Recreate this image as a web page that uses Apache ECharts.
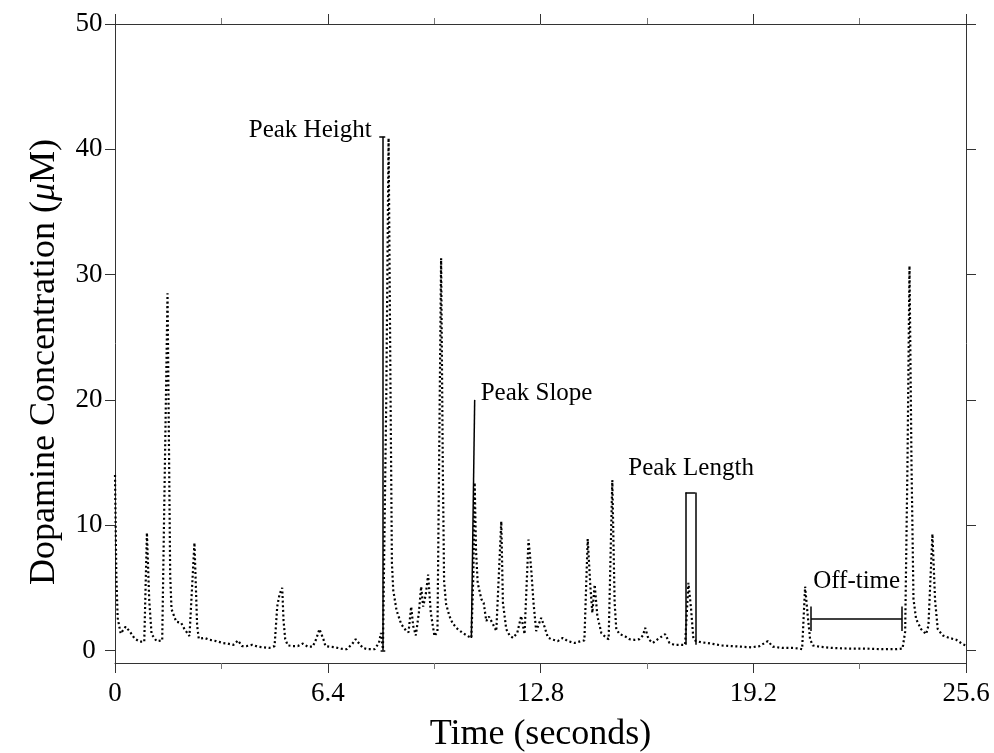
<!DOCTYPE html>
<html>
<head>
<meta charset="utf-8">
<script src="https://cdn.jsdelivr.net/npm/echarts@6/dist/echarts.min.js"></script>
<style>
  html, body { margin: 0; padding: 0; background: #fff; }
  #chart { width: 994px; height: 753px; }
</style>
</head>
<body>
<div id="chart"></div>
<script>
// Recorded dopamine trace: time (s) and concentration (µM)
const time = [
  0.00, 0.04, 0.08, 0.17, 0.32, 0.45, 0.59, 0.75, 0.88, 0.96, 1.03, 1.10, 1.25, 1.42, 1.58, 1.66, 1.70, 1.84, 1.99, 2.09,
  2.24, 2.30, 2.39, 2.47, 2.52, 2.69, 2.84, 3.04, 3.24, 3.39, 3.56, 3.70, 3.82, 3.95, 4.13, 4.30, 4.47, 4.63, 4.80, 4.88,
  4.95, 5.03, 5.07, 5.12, 5.20, 5.35, 5.50, 5.65, 5.80, 5.95, 6.05, 6.15, 6.20, 6.27, 6.33, 6.47, 6.62, 6.80, 6.97, 7.13,
  7.24, 7.36, 7.46, 7.60, 7.81, 7.94, 8.00, 8.06, 8.10, 8.16, 8.23, 8.29, 8.33, 8.37, 8.47, 8.61, 8.75, 8.83, 8.91, 8.97,
  9.05, 9.14, 9.21, 9.27, 9.35, 9.42, 9.50, 9.61, 9.66, 9.70, 9.75, 9.81, 9.86, 9.90, 9.96, 10.06, 10.16, 10.31, 10.46, 10.61,
  10.72, 10.78, 10.82, 10.86, 10.91, 11.02, 11.09, 11.17, 11.25, 11.37, 11.47, 11.52, 11.62, 11.67, 11.77, 11.87, 11.97, 12.10, 12.22, 12.32,
  12.44, 12.52, 12.59, 12.67, 12.82, 12.92, 13.02, 13.12, 13.32, 13.47, 13.62, 13.82, 14.03, 14.12, 14.22, 14.30, 14.36, 14.43, 14.51, 14.63,
  14.78, 14.85, 14.96, 15.03, 15.08, 15.18, 15.33, 15.48, 15.63, 15.78, 15.88, 15.95, 16.05, 16.18, 16.33, 16.55, 16.68, 16.83, 17.03, 17.15,
  17.25, 17.33, 17.40, 17.48, 17.64, 17.82, 18.03, 18.24, 18.54, 18.84, 19.14, 19.39, 19.64, 19.79, 20.08, 20.38, 20.60, 20.67, 20.76, 20.84,
  20.91, 20.99, 21.19, 21.59, 22.10, 22.58, 23.09, 23.48, 23.69, 23.77, 23.84, 23.90, 23.96, 24.02, 24.10, 24.25, 24.40, 24.47, 24.59, 24.67,
  24.75, 24.90, 25.10, 25.31, 25.50, 25.60
];
const dopamine = [
  14.0, 6.0, 2.6, 1.35, 1.9, 1.5, 0.95, 0.7, 0.7, 9.4, 4.0, 1.3, 0.75, 0.8, 28.5, 6.0, 3.3, 2.3, 2.2, 1.7,
  1.15, 1.1, 8.6, 2.0, 0.95, 1.0, 0.85, 0.75, 0.6, 0.55, 0.45, 0.8, 0.35, 0.35, 0.45, 0.3, 0.25, 0.2, 0.35, 3.5,
  4.5, 5.0, 2.4, 0.9, 0.4, 0.35, 0.35, 0.55, 0.3, 0.3, 0.9, 1.7, 1.85, 0.9, 0.35, 0.3, 0.25, 0.15, 0.1, 0.5,
  0.9, 0.5, 0.2, 0.1, 0.1, 0.6, 1.4, 0.1, 0.2, 20.0, 40.9, 20.0, 7.0, 4.8, 3.2, 2.1, 1.6, 1.45, 3.5, 1.95,
  1.2, 3.0, 5.1, 3.5, 4.5, 6.05, 3.0, 1.15, 1.0, 1.5, 15.0, 31.3, 15.0, 5.5, 3.7, 2.75, 2.15, 1.7, 1.4, 1.15,
  1.0, 6.0, 13.4, 8.0, 5.4, 4.1, 3.8, 2.35, 2.7, 2.1, 1.55, 1.4, 10.3, 3.8, 1.7, 1.2, 1.0, 1.4, 2.75, 1.3,
  8.85, 6.5, 3.8, 1.55, 2.6, 1.9, 1.05, 0.9, 0.75, 1.0, 0.75, 0.6, 0.75, 0.8, 8.9, 5.1, 3.0, 5.25, 2.75, 1.4,
  1.0, 0.9, 13.6, 3.8, 1.7, 1.3, 1.15, 0.9, 0.85, 0.9, 1.2, 1.8, 0.9, 0.6, 0.9, 1.3, 0.6, 0.45, 0.45, 0.45,
  5.4, 3.3, 0.9, 0.75, 0.65, 0.6, 0.5, 0.4, 0.35, 0.3, 0.25, 0.35, 0.75, 0.3, 0.2, 0.2, 0.15, 0.1, 5.1, 2.75,
  0.9, 0.4, 0.3, 0.2, 0.15, 0.15, 0.1, 0.1, 0.15, 1.5, 15.0, 30.7, 15.0, 4.1, 2.5, 1.7, 1.3, 2.0, 9.3, 4.0,
  1.7, 1.2, 1.0, 0.85, 0.5, 0.4
];

// Axis ticks
const xTicks = [0, 6.4, 12.8, 19.2, 25.6];
const yTicks = [0, 10, 20, 30, 40, 50];

// Measurement markers drawn on the trace (segments in data units)
const peakHeightMarker = [
  [[7.95, 41.0], [8.13, 41.0]],
  [[8.04, 41.0], [8.04, 0.0]],
  [[7.99, 0.0], [8.13, 0.0]]
];
const peakSlopeMarker = [
  [[10.72, 1.0], [10.82, 20.0]]
];
const peakLengthMarker = [
  [[17.16, 0.45], [17.16, 12.6]],
  [[17.16, 12.6], [17.46, 12.6]],
  [[17.46, 12.6], [17.46, 0.45]]
];
const offTimeMarker = [
  [[20.94, 2.5], [23.68, 2.5]],
  [[20.94, 1.55], [20.94, 3.5]],
  [[23.68, 1.55], [23.68, 3.5]]
];

// Marker captions and their anchor points
const captionText = ['Peak Height', 'Peak Slope', 'Peak Length', 'Off-time'];
const captionAt = [[7.72, 41.5], [11.0, 20.5], [17.33, 14.5], [22.31, 5.5]];
const captionSide = ['left', 'right', 'inside', 'inside'];

const serif = '"Liberation Serif", "DejaVu Serif", serif';
const axisColor = '#333';

const traceData = time.map((t, i) => [t, dopamine[i]]);

const markerSegments = [].concat(peakHeightMarker, peakSlopeMarker, peakLengthMarker, offTimeMarker)
  .map(seg => [{ coord: seg[0] }, { coord: seg[1] }]);

const captionData = captionText.map((txt, i) => ({
  name: txt,
  value: captionAt[i],
  label: { position: captionSide[i] }
}));

function xAxisCfg(pos, withLabels) {
  return {
    type: 'value',
    position: pos,
    min: 0,
    max: 25.6,
    interval: 6.4,
    axisLine: { show: true, onZero: false, lineStyle: { color: axisColor, width: 1 } },
    axisTick: { show: true, inside: false, length: 10, lineStyle: { color: axisColor } },
    minorTick: { show: true, splitNumber: 2, length: 6, lineStyle: { color: '#777' } },
    splitLine: { show: false },
    axisLabel: withLabels ? {
      show: true,
      margin: 17,
      color: '#000',
      fontFamily: serif,
      fontSize: 27,
      customValues: xTicks,
      formatter: v => String(Math.round(v * 10) / 10)
    } : { show: false },
    name: withLabels ? 'Time (seconds)' : '',
    nameLocation: 'middle',
    nameGap: 54,
    nameTextStyle: { color: '#000', fontFamily: serif, fontSize: 36 }
  };
}

function yAxisCfg(pos, withLabels) {
  return {
    type: 'value',
    position: pos,
    min: -1,
    max: 50,
    axisLine: { show: true, onZero: false, lineStyle: { color: axisColor, width: 1 } },
    axisTick: { show: true, inside: false, length: 10, customValues: yTicks, lineStyle: { color: axisColor } },
    splitLine: { show: false },
    axisLabel: withLabels ? {
      show: true,
      customValues: yTicks,
      margin: 26,
      align: 'center',
      color: '#000',
      fontFamily: serif,
      fontSize: 27
    } : { show: false }
  };
}

const chart = echarts.init(document.getElementById('chart'), null, { renderer: 'canvas' });

chart.setOption({
  animation: false,
  backgroundColor: '#fff',
  grid: { left: 115, right: 28, top: 24, bottom: 90, outerBoundsMode: 'none', containLabel: false },
  xAxis: [xAxisCfg('bottom', true), xAxisCfg('top', false)],
  yAxis: [yAxisCfg('left', true), yAxisCfg('right', false)],
  graphic: [{
    type: 'text',
    x: 45,
    y: 362,
    rotation: Math.PI / 2,
    style: {
      text: '{a|Dopamine Concentration (}{b|μ}{a|M)}',
      align: 'center',
      verticalAlign: 'middle',
      rich: {
        a: { fontFamily: serif, fontSize: 36, fill: '#000' },
        b: { fontFamily: serif, fontSize: 36, fontStyle: 'italic', fill: '#000' }
      }
    }
  }],
  series: [
    {
      name: 'Dopamine',
      type: 'line',
      data: traceData,
      showSymbol: false,
      symbol: 'none',
      lineStyle: { color: '#000', width: 2.2, type: [2, 2.6], cap: 'butt' },
      silent: true,
      z: 3
    },
    {
      name: 'Markers',
      type: 'line',
      data: [],
      silent: true,
      markLine: {
        silent: true,
        symbol: ['none', 'none'],
        label: { show: false },
        lineStyle: { color: '#000', width: 1.5, type: 'solid' },
        data: markerSegments
      },
      z: 4
    },
    {
      name: 'Captions',
      type: 'scatter',
      data: captionData,
      symbolSize: 0,
      silent: true,
      itemStyle: { opacity: 1 },
      label: {
        show: true,
        distance: 0,
        formatter: p => p.name,
        color: '#000',
        opacity: 1,
        textBorderWidth: 0,
        fontFamily: serif,
        fontSize: 25
      },
      z: 5
    }
  ]
});
</script>
</body>
</html>
